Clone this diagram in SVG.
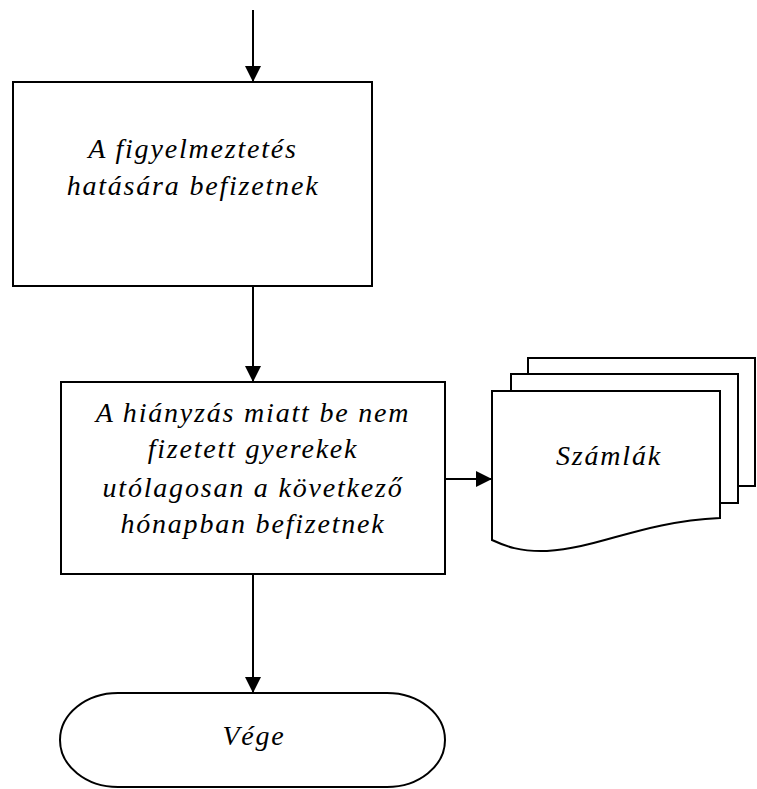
<svg xmlns="http://www.w3.org/2000/svg" width="757" height="789" viewBox="0 0 757 789">
<defs>
<marker id="ah" markerWidth="16" markerHeight="16" refX="16" refY="8" orient="auto" markerUnits="userSpaceOnUse" viewBox="0 0 16 16">
<path d="M0,0 L16,8 L0,16 z" fill="#000"/>
</marker>
<style>
.s{fill:#fff;stroke:#000;stroke-width:2}
.c{stroke:#000;stroke-width:2;fill:none;marker-end:url(#ah)}
.t{font-family:"Liberation Serif",serif;font-style:italic;font-size:28px;letter-spacing:1.8px;text-anchor:middle;fill:#000}
</style>
</defs>
<rect width="757" height="789" fill="#fff"/>
<g id="connectors">
<line class="c" x1="253" y1="10" x2="253" y2="82"/>
<line class="c" x1="253" y1="286" x2="253" y2="382"/>
<line class="c" x1="445" y1="479" x2="492" y2="479"/>
<line class="c" x1="253" y1="574" x2="253" y2="693"/>
</g>
<g id="n1">
<rect class="s" x="13" y="82" width="359" height="204"/>
<text class="t" x="193" y="158">A figyelmeztetés</text>
<text class="t" x="193" y="195">hatására befizetnek</text>
</g>
<g id="n2">
<rect class="s" x="61" y="382" width="384" height="192"/>
<text class="t" x="253" y="422">A hiányzás miatt be nem</text>
<text class="t" x="253" y="458">fizetett gyerekek</text>
<text class="t" x="253" y="497">utólagosan a következő</text>
<text class="t" x="253" y="533">hónapban befizetnek</text>
</g>
<g id="n3">
<path class="s" d="M528,374 V358 H755 V486 H738"/>
<path class="s" d="M511,391 V374 H738 V503 H720"/>
<path class="s" d="M492,391 H720 V518 C640,522 600,548 547,551 C520,552 505,546 492,540 Z"/>
<text class="t" x="609" y="465">Számlák</text>
</g>
<g id="n4">
<path class="s" d="M118,693 H387 A58,47 0 0 1 387,787 H118 A58,47 0 0 1 118,693 Z"/>
<text class="t" x="254" y="745">Vége</text>
</g>
</svg>
